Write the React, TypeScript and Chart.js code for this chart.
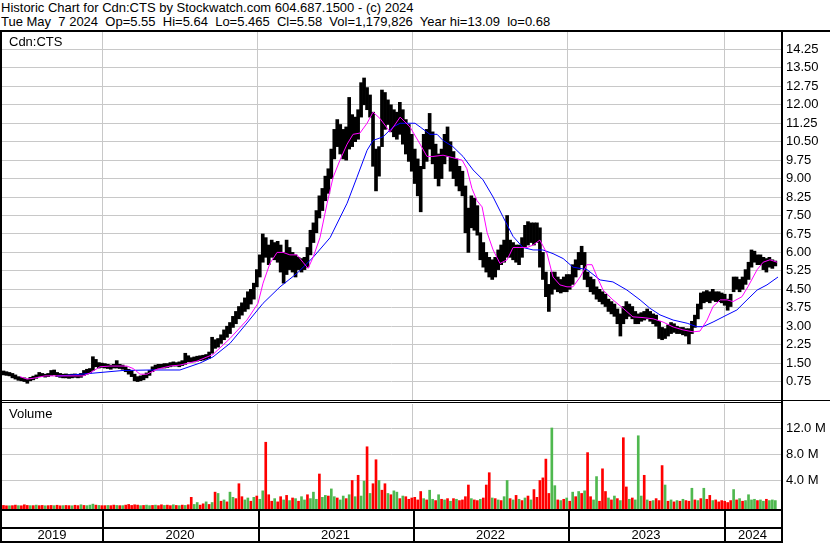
import React, { useEffect, useRef } from 'react';
import { Chart, registerables } from 'chart.js';

Chart.register(...registerables);

const headerLine1 = 'Historic Chart for Cdn:CTS by Stockwatch.com 604.687.1500 - (c) 2024';
const headerLine2 = 'Tue May  7 2024  Op=5.55  Hi=5.64  Lo=5.465  Cl=5.58  Vol=1,179,826  Year hi=13.09  lo=0.68';
const symbolLabel = 'Cdn:CTS';
const volumeLabel = 'Volume';

const yearLabels = ['2019', '2020', '2021', '2022', '2023', '2024'];
// week positions (from 7 May 2019) where each new year starts
const yearStartWeeks = [33.6, 85.9, 137.9, 189.9, 242.3];
const weekSpan = 261.4;

const priceTicks = [0.75, 1.5, 2.25, 3, 3.75, 4.5, 5.25, 6, 6.75, 7.5, 8.25, 9, 9.75, 10.5, 11.25, 12, 12.75, 13.5, 14.25];
const volumeTicks = [4, 8, 12];

// weekly low / high
const priceLow = [
  1.02, 1.0, 0.98, 0.9, 0.85, 0.8, 0.78, 0.75, 0.68, 0.78,
  0.82, 0.88, 0.95, 0.95, 0.93, 0.95, 1.0, 1.02, 0.95, 0.92,
  0.9, 0.9, 0.88, 0.9, 0.92, 0.9, 0.92, 1.0, 1.05, 1.1,
  1.2, 1.35, 1.3, 1.32, 1.3, 1.28, 1.25, 1.3, 1.3, 1.28,
  1.25, 1.15, 1.05, 0.95, 0.78, 0.75, 0.78, 0.82, 0.9, 1.0,
  1.15, 1.25, 1.28, 1.3, 1.3, 1.32, 1.35, 1.38, 1.38, 1.35,
  1.4, 1.45, 1.55, 1.55, 1.55, 1.58, 1.6, 1.62, 1.65, 1.7,
  1.9, 2.1, 2.15, 2.3, 2.45, 2.55, 2.7, 2.95, 3.1, 3.3,
  3.45, 3.6, 3.7, 3.9, 4.1, 4.6, 5.0, 5.6, 5.8, 5.5,
  5.8, 5.7, 5.6, 5.2, 4.75, 5.1, 5.3, 5.2, 5.0, 5.3,
  5.2, 5.3, 5.4, 5.9, 6.4, 6.8, 7.4, 7.7, 8.1, 8.4,
  9.0, 9.8, 10.3, 10.0, 9.8, 9.75, 10.2, 10.3, 10.5, 10.6,
  11.5, 12.0, 11.8, 11.5, 9.5, 8.5, 9.1, 10.3, 11.0, 11.2,
  10.9, 10.7, 10.6, 10.8, 10.4, 10.0, 9.7, 9.3, 8.8, 8.3,
  7.65, 9.4, 9.7, 10.2, 9.6, 9.0, 8.7, 9.0, 9.6, 9.9,
  9.3, 9.0, 8.7, 8.5, 8.3, 6.8, 6.0, 7.0, 6.9, 6.7,
  5.7, 5.4, 5.2, 5.0, 4.9, 5.0, 5.3, 5.5, 5.6, 5.8,
  5.8, 5.7, 5.6, 5.5, 5.8, 6.2, 6.3, 6.4, 6.3, 6.4,
  5.4, 4.9, 4.2, 3.6, 4.3, 4.5, 4.4, 4.35, 4.4, 4.4,
  4.5, 4.7, 5.0, 5.3, 5.5, 4.9, 4.6, 4.4, 4.3, 4.1,
  4.0, 3.9, 3.8, 3.6, 3.5, 3.4, 3.1, 2.6, 3.1, 3.3,
  3.4, 3.3, 3.1, 3.1, 3.2, 3.25, 3.3, 3.2, 3.1, 3.0,
  2.5, 2.45, 2.5, 2.6, 2.7, 2.75, 2.7, 2.7, 2.65, 2.6,
  2.28, 2.7, 2.95, 3.3, 3.7, 3.95, 4.0, 3.95, 4.05, 4.0,
  4.0, 3.95, 3.85, 3.65, 3.8, 4.4, 4.5, 4.4, 4.5, 4.7,
  4.9, 5.4, 5.6, 5.5, 5.5, 5.3, 5.2, 5.4, 5.35, 5.45,
];
const priceHigh = [
  1.18, 1.15, 1.12, 1.08, 1.02, 0.95, 0.92, 0.9, 0.85, 0.92,
  0.97, 1.02, 1.12, 1.08, 1.05, 1.08, 1.2, 1.22, 1.12, 1.08,
  1.05, 1.06, 1.04, 1.05, 1.06, 1.04, 1.08, 1.2, 1.25, 1.28,
  1.76, 1.65, 1.52, 1.5, 1.48, 1.45, 1.42, 1.45, 1.6, 1.45,
  1.42, 1.35, 1.25, 1.2, 1.05, 0.95, 0.98, 1.02, 1.1, 1.2,
  1.35, 1.42, 1.45, 1.45, 1.48, 1.48, 1.52, 1.55, 1.52, 1.55,
  1.6, 1.9, 1.8, 1.72, 1.75, 1.78, 1.8, 1.82, 1.85, 1.95,
  2.55, 2.45, 2.5, 2.65, 2.85, 3.0, 3.15, 3.4, 3.6, 3.8,
  3.95, 4.15, 4.4, 4.5, 4.75, 5.3, 5.9, 6.75, 6.6, 6.3,
  6.5, 6.4, 6.45, 6.3, 6.0, 6.5, 6.2, 6.0, 5.9, 5.8,
  5.75, 5.8, 6.2, 6.9, 7.2, 7.7, 8.3, 8.6, 9.1, 9.4,
  10.2, 11.0, 11.4, 11.2, 11.0, 11.1, 12.3, 11.6, 11.5, 11.8,
  12.9, 13.09, 12.7, 12.4, 11.7, 10.2, 10.3, 12.6, 12.5, 12.2,
  12.0, 11.8, 11.7, 12.1, 11.8, 11.4, 11.2, 10.8, 10.2, 9.8,
  9.5, 10.8, 11.0, 11.65, 10.9, 10.4, 10.0, 10.2, 10.8, 11.1,
  10.5, 10.1, 9.8, 9.5, 9.3, 8.7, 7.8, 8.3, 8.2, 7.9,
  6.8, 6.4, 6.0, 5.8, 5.7, 5.8, 6.1, 6.3, 6.5, 7.5,
  6.5, 6.4, 6.3, 6.3, 6.6, 7.1, 7.25, 7.2, 7.2, 7.2,
  7.0, 6.0, 5.2, 4.7, 5.2, 5.2, 5.0, 4.9, 5.0, 5.1,
  5.1, 5.5, 5.7, 6.0, 6.25, 6.0, 5.2, 5.0, 4.9, 4.6,
  4.5, 4.4, 4.3, 4.1, 4.0, 3.9, 3.7, 3.5, 3.8, 4.0,
  3.9, 3.8, 3.6, 3.5, 3.55, 3.6, 3.7, 3.6, 3.5, 3.45,
  3.2, 2.95, 2.9, 3.05, 3.15, 3.1, 3.0, 2.95, 2.95, 2.9,
  2.9, 3.2, 3.45, 3.9, 4.35, 4.4, 4.45, 4.4, 4.5, 4.4,
  4.4, 4.35, 4.3, 4.1, 4.3, 5.0, 5.0, 4.9, 5.0, 5.3,
  5.6, 6.1, 6.05, 5.9, 5.9, 5.8, 5.75, 5.8, 5.7, 5.65,
];

// short moving average (magenta)
const maShortWeeks = [6.0, 8.4, 10.4, 14.4, 18.5, 27.2, 29.5, 32.9, 36.2, 41.9, 44.0, 46.3, 48.7, 52.0, 56.4, 59.7, 65.4, 70.8, 76.5, 82.2, 85.9, 87.6, 89.9, 92.3, 94.3, 96.6, 99.0, 101.0, 102.7, 104.4, 106.7, 109.1, 111.1, 113.4, 115.8, 117.8, 120.1, 122.5, 124.5, 126.8, 130.2, 133.6, 136.9, 140.3, 142.6, 144.6, 148.0, 151.3, 154.4, 156.0, 157.7, 159.4, 161.1, 162.8, 164.8, 167.1, 169.5, 171.5, 173.8, 176.2, 178.2, 180.5, 182.9, 184.9, 187.2, 189.6, 191.6, 194.0, 196.3, 198.0, 199.7, 201.7, 205.0, 208.4, 211.7, 215.1, 218.5, 221.8, 225.2, 228.5, 231.9, 234.2, 236.6, 238.6, 241.0, 243.3, 245.3, 248.3, 250.3, 253.4, 255.4, 257.7, 260.1];
const maShortValues = [0.95, 0.85, 0.88, 0.98, 0.98, 0.98, 1.1, 1.35, 1.38, 1.38, 1.28, 1.05, 1.05, 1.25, 1.38, 1.42, 1.58, 1.85, 2.5, 3.25, 3.93, 4.75, 5.55, 6.0, 6.0, 5.9, 5.9, 5.6, 5.35, 5.8, 6.6, 8.0, 9.05, 9.75, 10.4, 10.8, 10.85, 11.25, 11.7, 11.45, 10.9, 11.5, 11.1, 10.4, 9.9, 9.9, 9.95, 9.85, 9.75, 9.4, 8.6, 8.1, 7.85, 6.8, 6.1, 5.55, 5.7, 6.2, 6.2, 6.2, 6.3, 6.5, 5.95, 5.0, 4.68, 4.6, 4.6, 5.0, 5.5, 5.5, 5.0, 4.47, 4.07, 3.73, 3.38, 3.35, 3.3, 3.17, 2.97, 2.85, 2.77, 2.8, 3.25, 3.8, 4.07, 4.07, 4.0, 4.2, 4.6, 5.3, 5.6, 5.7, 5.6];

// long moving average (blue)
const maLongWeeks = [18.5, 29.5, 40.6, 49.7, 59.7, 66.4, 70.8, 76.5, 82.2, 87.6, 93.3, 99.0, 104.4, 110.1, 115.8, 119.1, 122.5, 124.5, 127.9, 131.2, 133.6, 138.6, 140.3, 143.6, 146.0, 148.0, 151.3, 154.7, 158.1, 161.4, 164.8, 168.1, 171.5, 174.8, 178.2, 181.5, 184.9, 188.3, 191.6, 196.3, 200.7, 205.0, 209.7, 214.1, 217.4, 220.8, 225.2, 229.9, 233.2, 235.2, 238.6, 243.3, 246.6, 250.0, 253.4, 256.7, 260.4];
const maLongValues = [0.97, 1.08, 1.2, 1.22, 1.22, 1.5, 1.75, 2.3, 3.13, 3.93, 4.6, 5.15, 5.8, 6.6, 8.0, 9.05, 10.15, 10.55, 10.7, 11.1, 11.25, 11.25, 11.1, 10.8, 10.8, 10.55, 10.3, 9.9, 9.35, 8.95, 8.25, 7.45, 6.65, 6.2, 6.1, 6.1, 5.95, 5.75, 5.4, 5.3, 4.88, 4.8, 4.47, 4.07, 3.73, 3.46, 3.25, 3.12, 2.98, 2.98, 3.17, 3.46, 3.66, 4.07, 4.47, 4.68, 5.0];

// volume in millions, one representative value per week
const volumeM = [
  0.15, 0.1, 0.1, 0.12, 0.2, 0.12, 0.1, 0.25, 0.15, 0.12,
  0.12, 0.2, 0.12, 0.15, 0.1, 0.12, 0.15, 0.12, 0.18, 0.1,
  0.12, 0.15, 0.12, 0.1, 0.18, 0.12, 0.25, 0.15, 0.12, 0.2,
  0.35, 0.2, 0.15, 0.12, 0.12, 0.15, 0.12, 0.2, 0.15, 0.12,
  0.12, 0.2, 0.3, 0.15, 0.25, 0.2, 0.12, 0.15, 0.2, 0.12,
  0.15, 0.2, 0.12, 0.25, 0.15, 0.2, 0.12, 0.25, 0.15, 0.12,
  0.2, 0.15, 0.25, 1.4, 0.3, 0.6, 0.2, 0.4, 0.7, 0.3,
  0.6, 2.2, 2.0, 0.8, 1.0, 0.7, 2.2, 1.4, 1.2, 3.5,
  1.5, 1.0, 1.3, 0.8, 1.4, 1.6, 1.1, 2.4, 9.9, 1.8,
  0.8, 1.2, 0.7, 1.5, 1.0, 1.7, 0.9, 1.3, 1.2, 0.8,
  1.5, 1.0, 1.8, 1.2, 2.2, 1.1, 5.0, 1.4, 1.7, 1.6,
  2.7, 1.5, 1.3, 1.0, 1.6, 1.2, 1.8, 4.0, 1.5, 4.8,
  1.6, 3.9, 9.2, 2.0, 3.5, 7.2, 4.0, 2.5, 3.5, 2.0,
  1.8, 2.4, 2.2, 1.2, 1.6, 1.5, 1.1, 1.3, 1.4, 1.0,
  2.3, 1.2, 1.0, 2.5, 1.1, 0.9, 1.8, 1.1, 1.0, 1.2,
  0.8, 1.2, 1.1, 0.9, 1.0, 1.5, 3.3, 1.2, 1.0, 0.9,
  1.1, 1.3, 3.3, 5.2, 1.3, 1.2, 1.0, 0.9, 1.5, 4.0,
  1.2, 1.0, 1.7, 1.1, 0.9, 1.3, 1.6, 1.0, 2.6, 1.4,
  4.0, 4.4, 7.3, 2.0, 12.1, 3.2, 1.0, 0.9, 1.1, 1.3,
  0.8, 2.2, 1.5, 2.3, 2.0, 2.4, 8.3, 1.5, 1.0, 4.6,
  0.8, 5.8, 2.3, 1.3, 1.0, 1.6, 1.2, 0.9, 10.6, 3.0,
  1.1, 1.3, 1.0, 10.9, 1.6, 4.8, 1.0, 0.8, 0.9, 1.2,
  0.9, 6.3, 3.3, 0.8, 1.0, 0.7, 0.9, 0.8, 1.1, 0.9,
  0.8, 2.8, 1.0, 0.9, 1.2, 2.8, 1.1, 1.7, 0.9, 1.0,
  0.7, 0.9, 0.8, 0.6, 0.9, 2.6, 1.0, 1.2, 0.8, 0.9,
  1.8, 1.0, 1.1, 0.9, 1.0, 0.8, 1.1, 0.9, 1.0, 0.9,
];
// u = up week (green), d = down week (red)
const volumeDir = (
  'dduddudddu dudduddudd uddudduduu ududduddud uddddduduu ' +
  'dudduddudu dudduuddud udududuudd duududuudd duddududud ' +
  'uuduuuduud uuduududud uududduddu duududdddd duduududud ' +
  'ududdddudd udddududuu dududududd dddduududu dudududduu ' +
  'dddudududd uduuududud ddudududud dudududdud dddddududu ' +
  'uuuduuduuu'
).replace(/ /g, '');

const FONT = 'Arial, "Liberation Sans", sans-serif';
const GRID = '#c8c8c8';
const GREEN = '#4fb84f';
const RED = '#ff0000';

const xScaleBase = {
  type: 'linear' as const,
  min: 0,
  max: weekSpan,
  offset: false,
  grid: { color: GRID, drawTicks: false, offset: false, lineWidth: 1 },
  border: { display: false },
  ticks: { display: false },
  afterBuildTicks: (s: any) => {
    s.ticks = yearStartWeeks.map((v) => ({ value: v }));
  },
};

function PriceChart() {
  const ref = useRef<HTMLCanvasElement>(null);
  useEffect(() => {
    const frame = {
      id: 'priceFrame',
      afterDraw(chart: any) {
        const ctx = chart.ctx;
        const a = chart.chartArea;
        ctx.save();
        ctx.fillStyle = '#000';
        ctx.fillRect(0, 0, chart.width, 2);
        ctx.fillRect(0, 0, 2, chart.height);
        ctx.fillRect(Math.round(a.right), 0, 2, chart.height);
        ctx.restore();
      },
    };
    const chart = new Chart(ref.current!, {
      type: 'bar',
      data: {
        datasets: [
          {
            type: 'line',
            data: maShortWeeks.map((w, i) => ({ x: w, y: maShortValues[i] })),
            borderColor: '#ff00ff',
            borderWidth: 1,
            pointRadius: 0,
            tension: 0,
            order: 0,
          },
          {
            type: 'line',
            data: maLongWeeks.map((w, i) => ({ x: w, y: maLongValues[i] })),
            borderColor: '#0000ff',
            borderWidth: 1,
            pointRadius: 0,
            tension: 0,
            order: 0,
          },
          {
            type: 'bar',
            data: priceLow.map((lo, i) => ({ x: i + 0.5, y: [lo, priceHigh[i]] })),
            backgroundColor: '#000',
            borderWidth: 0,
            barThickness: 3,
            grouped: false,
            order: 1,
          },
        ],
      } as any,
      options: {
        responsive: false,
        animation: false,
        devicePixelRatio: 1,
        layout: { padding: { left: 2, top: 1, right: 0, bottom: 0 } },
        plugins: { legend: { display: false }, tooltip: { enabled: false } },
        scales: {
          x: xScaleBase as any,
          y: {
            position: 'right',
            min: 0,
            max: 15,
            grid: { color: GRID, drawTicks: false, lineWidth: 1 },
            border: { display: false },
            ticks: {
              color: '#000',
              padding: 5,
              font: { family: FONT, size: 13 },
              callback: (v: any) => Number(v).toFixed(2),
            },
            afterBuildTicks: (s: any) => {
              s.ticks = priceTicks.map((v) => ({ value: v }));
            },
            afterFit: (s: any) => {
              s.width = 49;
              s.paddingTop = 0;
              s.paddingBottom = 0;
            },
          } as any,
        },
      },
      plugins: [frame],
    });
    return () => chart.destroy();
  }, []);
  return (
    <canvas
      ref={ref}
      width={830}
      height={370}
      style={{ position: 'absolute', left: 0, top: 30, width: 830, height: 370, display: 'block' }}
    />
  );
}

function VolumeChart() {
  const ref = useRef<HTMLCanvasElement>(null);
  useEffect(() => {
    const frame = {
      id: 'volumeFrame',
      afterDraw(chart: any) {
        const ctx = chart.ctx;
        const a = chart.chartArea;
        const xs = chart.scales.x;
        const right = Math.round(a.right);
        const h = chart.height;
        ctx.save();
        ctx.fillStyle = '#000';
        ctx.fillRect(0, 0, chart.width, 1);
        ctx.fillRect(0, 2, right, 1);
        ctx.fillRect(0, 0, 2, h);
        ctx.fillRect(right, 0, 2, h);
        ctx.fillRect(0, 109, right + 2, 2);
        ctx.fillRect(0, 127, right + 2, 2);
        ctx.fillRect(0, 141, right + 2, 2);
        yearStartWeeks.forEach((w) => {
          const px = Math.round(xs.getPixelForValue(w));
          ctx.fillRect(px, 109, 2, h - 109);
        });
        const edges = [0, ...yearStartWeeks, weekSpan];
        ctx.font = '13px ' + FONT;
        ctx.textAlign = 'center';
        ctx.textBaseline = 'alphabetic';
        yearLabels.forEach((lab, i) => {
          const x0 = xs.getPixelForValue(edges[i]);
          const x1 = xs.getPixelForValue(edges[i + 1]);
          ctx.fillText(lab, (x0 + x1) / 2, 138.5);
        });
        ctx.restore();
      },
    };
    const chart = new Chart(ref.current!, {
      type: 'bar',
      data: {
        datasets: [
          {
            data: volumeM.map((v, i) => ({ x: i + 0.5, y: v })),
            backgroundColor: volumeM.map((_, i) => (volumeDir[i] === 'u' ? GREEN : RED)),
            borderWidth: 0,
            barThickness: 2,
            base: -0.4,
          },
        ],
      } as any,
      options: {
        responsive: false,
        animation: false,
        devicePixelRatio: 1,
        layout: { padding: { left: 2, top: 4, right: 0, bottom: 34 } },
        plugins: { legend: { display: false }, tooltip: { enabled: false } },
        scales: {
          x: xScaleBase as any,
          y: {
            position: 'right',
            min: -0.4,
            max: 15.8,
            grid: { color: GRID, drawTicks: false, lineWidth: 1 },
            border: { display: false },
            ticks: {
              color: '#000',
              padding: 5,
              font: { family: FONT, size: 13 },
              callback: (v: any) => Number(v).toFixed(1) + ' M',
            },
            afterBuildTicks: (s: any) => {
              s.ticks = volumeTicks.map((v) => ({ value: v }));
            },
            afterFit: (s: any) => {
              s.width = 49;
              s.paddingTop = 0;
              s.paddingBottom = 0;
            },
          } as any,
        },
      },
      plugins: [frame],
    });
    return () => chart.destroy();
  }, []);
  return (
    <canvas
      ref={ref}
      width={830}
      height={143}
      style={{ position: 'absolute', left: 0, top: 400, width: 830, height: 143, display: 'block' }}
    />
  );
}

const textStyle: React.CSSProperties = {
  position: 'absolute',
  fontFamily: FONT,
  fontSize: 13,
  lineHeight: '14px',
  color: '#000',
  whiteSpace: 'pre',
};

export default function App() {
  return (
    <div
      style={{
        position: 'absolute',
        left: 0,
        top: 0,
        width: 830,
        height: 543,
        background: '#fff',
        overflow: 'hidden',
      }}
    >
      <div style={{ ...textStyle, left: 1, top: 1 }}>{headerLine1}</div>
      <div style={{ ...textStyle, left: 1, top: 15 }}>{headerLine2}</div>
      <PriceChart />
      <VolumeChart />
      <div style={{ ...textStyle, left: 9, top: 35 }}>{symbolLabel}</div>
      <div style={{ ...textStyle, left: 9, top: 407 }}>{volumeLabel}</div>
    </div>
  );
}
